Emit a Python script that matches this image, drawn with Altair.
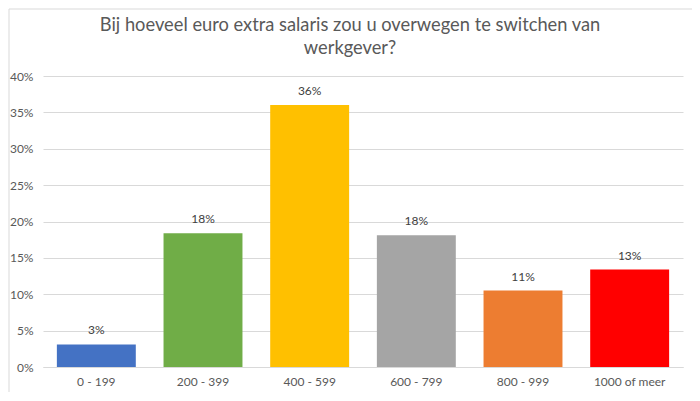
import altair as alt
import pandas as pd

categories = ["0 - 199", "200 - 399", "400 - 599", "600 - 799", "800 - 999", "1000 of meer"]
values = [0.031, 0.184, 0.360, 0.181, 0.105, 0.134]
colors = ["#4472C4", "#70AD47", "#FFC000", "#A5A5A5", "#ED7D31", "#FF0000"]
y_ticks = [0, 0.05, 0.10, 0.15, 0.20, 0.25, 0.30, 0.35, 0.40]
title_lines = ["Bij hoeveel euro extra salaris zou u overwegen te switchen van", "werkgever?"]

df = pd.DataFrame({"cat": categories, "val": values, "color": colors})

FONT = "Lato"
TXT = "#595959"

x_enc = alt.X(
    "cat:N",
    sort=categories,
    scale=alt.Scale(paddingInner=0.26, paddingOuter=0.13),
    axis=alt.Axis(
        title=None, labelAngle=0, ticks=False, domainColor="#D9D9D9",
        labelColor=TXT, labelFont=FONT, labelFontSize=12, labelPadding=9,
    ),
)
y_enc = alt.Y(
    "val:Q",
    scale=alt.Scale(domain=[0, 0.4], nice=False),
    axis=alt.Axis(
        title=None, values=y_ticks, format=".0%", ticks=False, domain=False,
        gridColor="#D9D9D9", labelColor=TXT, labelFont=FONT, labelFontSize=12,
        labelPadding=10, labelOverlap=False,
    ),
)

base = alt.Chart(df)
bars = base.mark_bar().encode(
    x=x_enc,
    y=y_enc,
    color=alt.Color("color:N", scale=None),
)
labels = base.mark_text(baseline="bottom", dy=-7, font=FONT, fontSize=12, color="#404040").encode(
    x=x_enc,
    y=y_enc,
    text=alt.Text("val:Q", format=".0%"),
)
frame = alt.Chart(pd.DataFrame({"a": [0]})).mark_rect(
    fill=None, stroke="#D9D9D9", strokeWidth=1
).encode(
    x=alt.value(-34), x2=alt.value(654), y=alt.value(-67), y2=alt.value(322)
)
title1 = alt.Chart(pd.DataFrame({"t": [title_lines[0]]})).mark_text(
    font=FONT, fontSize=18.3, color=TXT, align="center", baseline="middle"
).encode(x=alt.value(307), y=alt.value(-50), text="t:N")
title2 = alt.Chart(pd.DataFrame({"t": [title_lines[1]]})).mark_text(
    font=FONT, fontSize=18.3, color=TXT, align="center", baseline="middle"
).encode(x=alt.value(307), y=alt.value(-27), text="t:N")

chart = alt.layer(frame, bars, labels, title1, title2).properties(
    width=640,
    height=291,
    autosize=alt.AutoSizeParams(type="none"),
    padding={"left": 35, "top": 68, "right": 9, "bottom": 25},
).configure_view(stroke=None)

chart.save("out.html", embed_options={"renderer": "svg", "actions": False})
